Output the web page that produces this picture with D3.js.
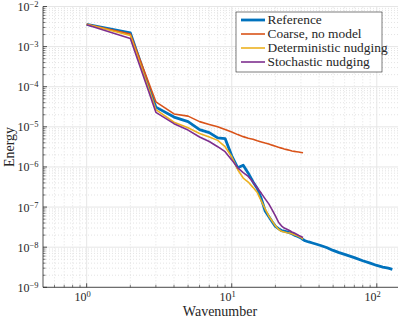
<!DOCTYPE html>
<html>
<head>
  <meta charset="utf-8">
  <title>Energy spectrum</title>
  <script src="https://cdn.jsdelivr.net/npm/d3@7"></script>
  <style>
    body { margin: 0; background: #fff; }
  </style>
</head>
<body>
<script>
  // reference run: read at integer wavenumbers, then sparser past the coarse cutoff
  var refK = [1, 2, 3, 4, 5, 6, 7, 8, 9, 10, 11, 12, 13, 14, 15, 16, 17, 18, 19, 20,
    21, 22, 23, 24, 25, 26, 27, 28, 29, 30, 31, 32, 34, 36, 38, 41, 45, 50, 55, 60,
    70, 80, 90, 100, 110, 120, 128];
  var refE = [3.6e-3, 2.2e-3, 3.1e-5, 1.75e-5, 1.35e-5, 8.5e-6, 7.2e-6, 5.3e-6, 5.1e-6, 1.9e-6,
    9.5e-7, 1.1e-6, 7.0e-7, 4.3e-7, 2.9e-7, 1.6e-7, 8.0e-8, 5.8e-8, 4.3e-8, 3.3e-8,
    2.9e-8, 2.6e-8, 2.5e-8, 2.4e-8, 2.3e-8, 2.15e-8, 2.0e-8, 1.9e-8, 1.8e-8, 1.7e-8, 1.55e-8, 1.45e-8,
    1.35e-8, 1.27e-8, 1.2e-8, 1.1e-8, 9.8e-9, 8.3e-9, 7.3e-9, 6.6e-9,
    5.5e-9, 4.6e-9, 4.0e-9, 3.5e-9, 3.2e-9, 3.0e-9, 2.8e-9];

  // coarse runs share k = 1..31
  var coarseK = d3.range(1, 32);
  var coarseE = [3.6e-3, 2.05e-3, 4.2e-5, 2.1e-5, 1.85e-5, 1.35e-5, 1.15e-5, 1.0e-5, 8.6e-6, 7.4e-6,
    6.4e-6, 5.7e-6, 5.2e-6, 4.9e-6, 4.5e-6, 4.2e-6, 3.95e-6, 3.75e-6, 3.5e-6, 3.3e-6,
    3.1e-6, 2.95e-6, 2.8e-6, 2.7e-6, 2.6e-6, 2.5e-6, 2.45e-6, 2.4e-6, 2.35e-6, 2.3e-6, 2.25e-6];
  var detE = [3.6e-3, 1.9e-3, 2.7e-5, 1.3e-5, 9.5e-6, 6.8e-6, 5.6e-6, 4.6e-6, 3.2e-6, 1.8e-6,
    8.5e-7, 5.3e-7, 4.2e-7, 3.1e-7, 2.3e-7, 1.4e-7, 9.0e-8, 6.0e-8, 4.5e-8, 3.4e-8,
    2.8e-8, 2.5e-8, 2.4e-8, 2.3e-8, 2.25e-8, 2.15e-8, 2.05e-8, 1.95e-8, 1.85e-8, 1.75e-8, 1.6e-8];
  var stoE = [3.5e-3, 1.6e-3, 2.3e-5, 1.2e-5, 8.3e-6, 5.6e-6, 4.3e-6, 3.2e-6, 2.4e-6, 1.5e-6,
    9.5e-7, 7.2e-7, 5.8e-7, 4.2e-7, 3.0e-7, 2.2e-7, 1.6e-7, 1.2e-7, 8.5e-8, 6.0e-8,
    4.2e-8, 3.4e-8, 3.0e-8, 2.8e-8, 2.6e-8, 2.4e-8, 2.25e-8, 2.1e-8, 1.95e-8, 1.85e-8, 1.75e-8];

  var names = ["Reference", "Coarse, no model", "Deterministic nudging", "Stochastic nudging"];
  var colors = ["#0072BD", "#D95319", "#EDB120", "#7E2F8E"];
  var xTicks = [1, 10, 100];
  var yTicks = [1e-9, 1e-8, 1e-7, 1e-6, 1e-5, 1e-4, 1e-3, 1e-2];

  var W = 399, H = 318;
  var svg = d3.select("body").append("svg").attr("width", W).attr("height", H)
    .attr("font-family", "'Liberation Serif', 'Times New Roman', 'DejaVu Serif', serif");

  var x = d3.scaleLog().domain([0.5, 140]).range([43, 398]);
  var y = d3.scaleLog().domain([1e-9, 1e-2]).range([287.3, 6.5]);

  // minor positions
  var xMinor = [], yMinor = [];
  [0.1, 1, 10, 100].forEach(function (d) {
    for (var m = 2; m <= 9; m++) {
      var v = d * m;
      if (v > 0.5 && v < 140) xMinor.push(v);
    }
  });
  yTicks.slice(0, -1).forEach(function (d) {
    for (var m = 2; m <= 9; m++) yMinor.push(d * m);
  });

  var grid = svg.append("g");
  grid.selectAll("line.xm").data(xMinor).enter().append("line")
    .attr("x1", d => x(d)).attr("x2", d => x(d)).attr("y1", y(1e-9)).attr("y2", y(1e-2))
    .attr("stroke", "#dcdcdc").attr("stroke-width", 0.8).attr("stroke-dasharray", "1,2");
  grid.selectAll("line.ym").data(yMinor).enter().append("line")
    .attr("y1", d => y(d)).attr("y2", d => y(d)).attr("x1", x(0.5)).attr("x2", x(140))
    .attr("stroke", "#dcdcdc").attr("stroke-width", 0.8).attr("stroke-dasharray", "1,2");
  grid.selectAll("line.xM").data(xTicks).enter().append("line")
    .attr("x1", d => x(d)).attr("x2", d => x(d)).attr("y1", y(1e-9)).attr("y2", y(1e-2))
    .attr("stroke", "#e6e6e6").attr("stroke-width", 1);
  grid.selectAll("line.yM").data(yTicks).enter().append("line")
    .attr("y1", d => y(d)).attr("y2", d => y(d)).attr("x1", x(0.5)).attr("x2", x(140))
    .attr("stroke", "#e6e6e6").attr("stroke-width", 1);

  // series
  var line = d3.line().x(d => x(d[0])).y(d => y(d[1]));
  var series = [
    { k: refK, e: refE, w: 2.8 },
    { k: coarseK, e: coarseE, w: 1.6 },
    { k: coarseK, e: detE, w: 1.6 },
    { k: coarseK, e: stoE, w: 1.6 }
  ];
  series.forEach(function (s, i) {
    svg.append("path")
      .datum(d3.zip(s.k, s.e))
      .attr("d", line)
      .attr("fill", "none")
      .attr("stroke", colors[i])
      .attr("stroke-width", s.w)
      .attr("stroke-linejoin", "round");
  });

  // axes (ticks inward, no box)
  var ax = svg.append("g").attr("stroke", "#262626");
  ax.append("line").attr("x1", x(0.5)).attr("x2", x(140)).attr("y1", y(1e-9)).attr("y2", y(1e-9)).attr("stroke-width", 0.8);
  ax.append("line").attr("x1", x(0.5)).attr("x2", x(0.5)).attr("y1", y(1e-9)).attr("y2", y(1e-2)).attr("stroke-width", 0.8);
  ax.selectAll("line.xt").data(xTicks).enter().append("line")
    .attr("x1", d => x(d)).attr("x2", d => x(d)).attr("y1", y(1e-9)).attr("y2", y(1e-9) - 4).attr("stroke-width", 0.8);
  ax.selectAll("line.xn").data(xMinor).enter().append("line")
    .attr("x1", d => x(d)).attr("x2", d => x(d)).attr("y1", y(1e-9)).attr("y2", y(1e-9) - 2.5).attr("stroke-width", 0.6);
  ax.selectAll("line.yt").data(yTicks).enter().append("line")
    .attr("y1", d => y(d)).attr("y2", d => y(d)).attr("x1", x(0.5)).attr("x2", x(0.5) + 4).attr("stroke-width", 0.8);
  ax.selectAll("line.yn").data(yMinor).enter().append("line")
    .attr("y1", d => y(d)).attr("y2", d => y(d)).attr("x1", x(0.5)).attr("x2", x(0.5) + 2.5).attr("stroke-width", 0.6);

  function powLabel(sel, d) {
    var p = Math.round(Math.log10(d));
    sel.append("tspan").text("10");
    sel.append("tspan").attr("dy", -4).attr("font-size", 8.5).text(p < 0 ? "\u2212" + (-p) : p);
  }

  svg.selectAll("text.yl").data(yTicks).enter().append("text")
    .attr("x", 38.5).attr("y", d => y(d) + 4.5).attr("text-anchor", "end").attr("font-size", 12)
    .attr("fill", "#262626")
    .each(function (d) { powLabel(d3.select(this), d); });
  svg.selectAll("text.xl").data(xTicks).enter().append("text")
    .attr("x", d => x(d) + 4).attr("y", 301).attr("text-anchor", "end").attr("font-size", 12)
    .attr("fill", "#262626")
    .each(function (d) { powLabel(d3.select(this), d); });

  svg.append("text").attr("x", 220).attr("y", 315.5).attr("text-anchor", "middle")
    .attr("font-size", 14).attr("fill", "#262626").text("Wavenumber");
  svg.append("text").attr("transform", "translate(14,147) rotate(-90)").attr("text-anchor", "middle")
    .attr("font-size", 14).attr("fill", "#262626").text("Energy");

  // legend
  var lg = svg.append("g");
  lg.append("rect").attr("x", 236).attr("y", 12).attr("width", 146).attr("height", 60)
    .attr("fill", "#fff").attr("stroke", "#262626").attr("stroke-width", 0.6);
  names.forEach(function (n, i) {
    var ly = 20 + i * 14;
    lg.append("line").attr("x1", 241).attr("x2", 265).attr("y1", ly).attr("y2", ly)
      .attr("stroke", colors[i]).attr("stroke-width", series[i].w);
    lg.append("text").attr("x", 267.5).attr("y", ly + 4).attr("font-size", 13.4)
      .attr("fill", "#262626").text(n);
  });
</script>
</body>
</html>
